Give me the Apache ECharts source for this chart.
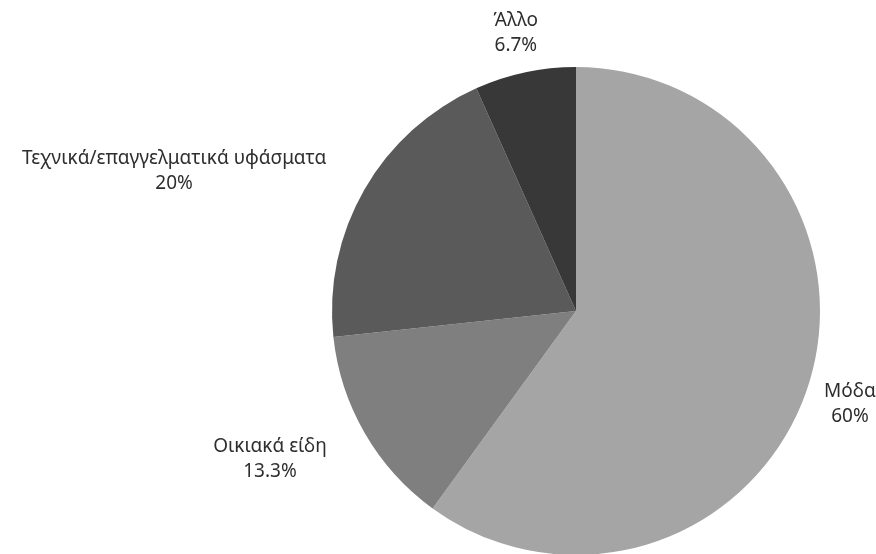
<!DOCTYPE html>
<html>
<head>
<meta charset="utf-8">
<script src="https://cdn.jsdelivr.net/npm/echarts@6/dist/echarts.min.js"></script>
<style>
  html, body { margin: 0; padding: 0; background: #ffffff; }
  #chart { width: 876px; height: 554px; }
</style>
</head>
<body>
<div id="chart"></div>
<script>
// Share of production by end use
const categories = ['Μόδα', 'Οικιακά είδη', 'Τεχνικά/επαγγελματικά υφάσματα', 'Άλλο'];
const shares = [60, 13.3, 20, 6.7];
const shareLabels = ['60%', '13.3%', '20%', '6.7%'];
const sliceColors = ['#a5a5a5', '#7f7f7f', '#5a5a5a', '#383838'];

const CX = 576, CY = 311, R = 244;
const LABEL_DIST = R + 44;
const LABEL_DROP = 4;
// how each label block hangs off its anchor point: centred or ending at it
const labelAnchor = ['center', 'right', 'right', 'center'];

// mid-angle of each slice, measured clockwise from 12 o'clock
const total = shares.reduce((a, b) => a + b, 0);
const midAngles = [];
let acc = 0;
shares.forEach(v => {
  midAngles.push((acc + v / 2) / total * Math.PI * 2);
  acc += v;
});

const chart = echarts.init(document.getElementById('chart'), null, { renderer: 'canvas' });

const data = categories.map((name, i) => ({
  name: name,
  value: shares[i],
  itemStyle: { color: sliceColors[i] }
}));

chart.setOption({
  animation: false,
  series: [{
    type: 'pie',
    center: [CX, CY],
    radius: R,
    startAngle: 90,
    clockwise: true,
    avoidLabelOverlap: false,
    data: data,
    itemStyle: { borderWidth: 0 },
    label: {
      show: true,
      position: 'outside',
      fontFamily: 'Noto Sans',
      fontSize: 19,
      lineHeight: 25,
      color: '#2e2e2e',
      formatter: p => p.name + '\n' + shareLabels[p.dataIndex]
    },
    labelLine: { show: false, length: 20, length2: 0 },
    labelLayout: p => {
      const a = midAngles[p.dataIndex];
      let x = CX + Math.sin(a) * LABEL_DIST;
      const y = CY - Math.cos(a) * LABEL_DIST + LABEL_DROP;
      if (labelAnchor[p.dataIndex] === 'right') x -= p.labelRect.width / 2;
      return { x: x, y: y, align: 'center', verticalAlign: 'middle' };
    }
  }]
});
</script>
</body>
</html>
